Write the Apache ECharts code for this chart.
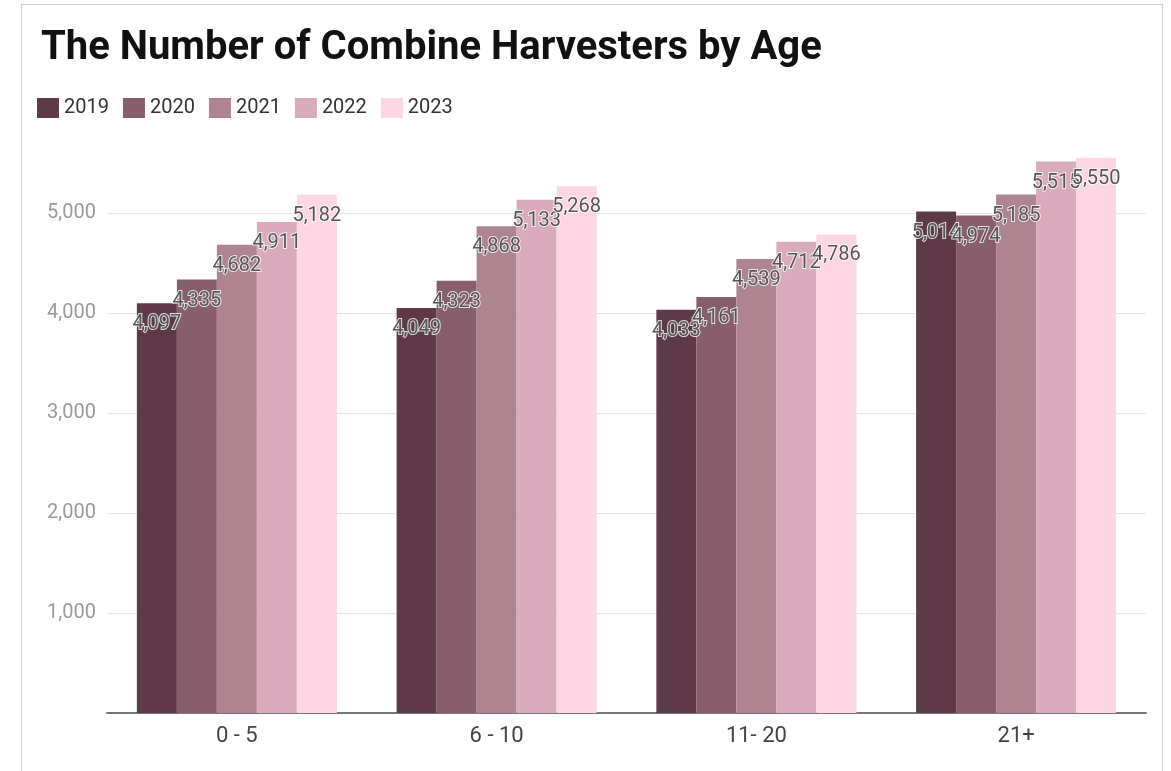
<!DOCTYPE html>
<html>
<head>
<meta charset="utf-8">
<script src="https://cdn.jsdelivr.net/npm/echarts@6/dist/echarts.min.js"></script>
<style>
    html, body { margin: 0; padding: 0; background: #fff; }
    #wrap { position: relative; width: 1171px; height: 771px; overflow: hidden; }
    #card { position: absolute; left: 21px; top: 4px; width: 1142px; height: 820px; border: 1px solid #cfcfcf; box-sizing: border-box; }
    #chart { position: absolute; left: 0; top: 0; width: 1171px; height: 771px; }
</style>
</head>
<body>
<div id="wrap">
    <div id="card"></div>
    <div id="chart"></div>
</div>
<script>
    /* ---------- data ---------- */
    var ageGroups = ['0 - 5', '6 - 10', '11- 20', '21+'];
    var years = ['2019', '2020', '2021', '2022', '2023'];
    var v2019 = [4097, 4049, 4033, 5014];
    var v2020 = [4335, 4323, 4161, 4974];
    var v2021 = [4682, 4868, 4539, 5185];
    var v2022 = [4911, 5133, 4712, 5515];
    var v2023 = [5182, 5268, 4786, 5550];
    var colors = ['#5e3a48', '#875e6c', '#ae8491', '#d9abbc', '#fdd5e3'];

    var chart = echarts.init(document.getElementById('chart'));

    function fmt(v) {
        return v.toLocaleString('en-US');
    }

    var seriesData = [v2019, v2020, v2021, v2022, v2023];
    var series = [];
    for (var i = 0; i < years.length; i++) {
        series.push({
            name: years[i],
            type: 'bar',
            data: seriesData[i],
            barGap: 0,
            barCategoryGap: '23%',
            itemStyle: { color: colors[i] },
            label: {
                show: true,
                position: 'insideTop',
                distance: 11,
                color: '#555',
                fontFamily: 'Roboto',
                fontSize: 20,
                textBorderColor: 'rgba(255,255,255,0.8)',
                textBorderWidth: 2,
                formatter: function (p) { return fmt(p.value); }
            }
        });
    }

    var option = {
        animation: false,
        color: colors,
        title: {
            text: 'The Number of Combine Harvesters by Age',
            left: 36,
            top: 24,
            textStyle: {
                fontFamily: 'Roboto',
                fontWeight: 'bold',
                fontSize: 40,
                color: '#111'
            }
        },
        legend: {
            left: 37,
            top: 98,
            padding: 0,
            itemWidth: 22,
            itemHeight: 20,
            itemGap: 14,
            icon: 'rect',
            data: years,
            textStyle: {
                fontFamily: 'Roboto',
                fontSize: 20,
                color: '#333'
            }
        },
        grid: {
            left: 107,
            right: 25,
            top: 153,
            bottom: 58
        },
        xAxis: {
            type: 'category',
            data: ageGroups,
            axisTick: { show: false },
            axisLine: { lineStyle: { color: '#777', width: 2 } },
            axisLabel: {
                margin: 12,
                fontFamily: 'Roboto',
                fontSize: 22,
                color: '#444'
            }
        },
        yAxis: {
            type: 'value',
            min: 0,
            max: 5600,
            interval: 1000,
            axisLine: { show: false },
            axisTick: { show: false },
            splitLine: {
                showMaxLine: false,
                lineStyle: { color: '#e4e4e4' }
            },
            axisLabel: {
                margin: 11,
                showMaxLabel: false,
                fontFamily: 'Roboto',
                fontSize: 20,
                color: '#9a9a9a',
                formatter: function (v) { return v === 0 ? '' : fmt(v); }
            }
        },
        series: series
    };

    chart.setOption(option);
</script>
</body>
</html>
